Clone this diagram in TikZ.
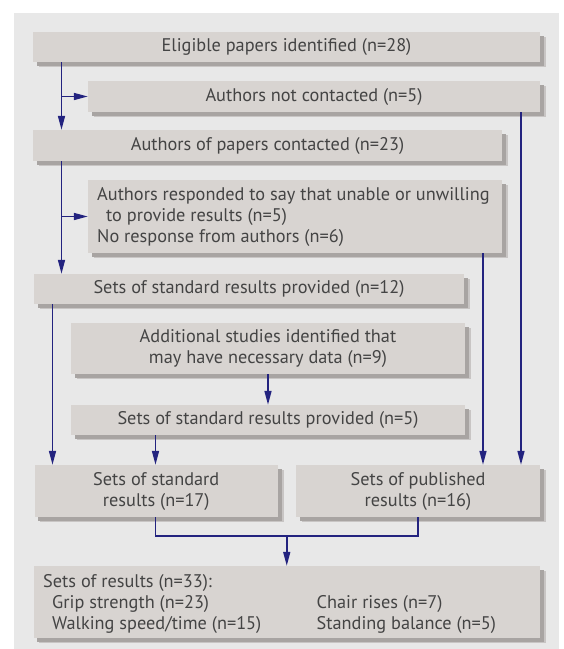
\documentclass[tikz,border=0pt]{standalone}
\usepackage{fontspec}
\setmainfont{PT Sans}
\usetikzlibrary{shadows,arrows.meta}
\definecolor{panel}{HTML}{E8E8E8}
\definecolor{boxfill}{HTML}{D8D4D1}
\definecolor{shadowdark}{HTML}{A8A4A2}
\definecolor{shadowlight}{HTML}{C8C5C4}
\definecolor{navy}{HTML}{23237F}
\definecolor{txt}{HTML}{444444}
\begin{document}
\begin{tikzpicture}[x=1pt,y=-1pt,
  fbox/.style={rectangle, fill=boxfill, inner sep=0pt, text=txt,
    font=\fontsize{18.3}{21}\selectfont, align=center,
    general shadow={fill=shadowlight, shadow xshift=5.5pt, shadow yshift=-5pt},
    general shadow={fill=shadowdark, shadow xshift=3.5pt, shadow yshift=-3.5pt}},
  txtn/.style={inner sep=0pt, text=txt, font=\fontsize{18.3}{21}\selectfont},
  conn/.style={draw=navy, line width=1.6pt},
  arr/.style={conn, -{Triangle[length=14pt,width=7pt]}}]
\useasboundingbox (0,0) rectangle (564,649);
\fill[panel] (14,13) rectangle (559,649);

\node[fbox, minimum width=507pt, minimum height=30pt] (b1) at (286.5,47) {Eligible papers identified (n=28)};
\node[fbox, minimum width=452pt, minimum height=31pt] (b2) at (314,96.5) {Authors not contacted (n=5)};
\node[fbox, minimum width=469pt, minimum height=31pt] (b3) at (267.5,145.5) {Authors of papers contacted (n=23)};
\node[fbox, minimum width=414pt, minimum height=73pt] (b4) at (295,216.5) {};
\node[txtn, anchor=base west] (t4a) at (97,200) {Authors responded to say that unable or unwilling};
\node[txtn, anchor=base west] (t4b) at (106,221.5) {to provide results (n=5)};
\node[txtn, anchor=base west] (t4c) at (97,242.5) {No response from authors (n=6)};
\node[fbox, minimum width=430pt, minimum height=30pt] (b5) at (249,289) {Sets of standard results provided (n=12)};
\node[fbox, minimum width=394pt, minimum height=51pt] (b6) at (268,348.5) {Additional studies identified that\\may have necessary data (n=9)};
\node[fbox, minimum width=394pt, minimum height=30pt] (b7) at (268,420) {Sets of standard results provided (n=5)};
\node[fbox, minimum width=243.5pt, minimum height=52pt] (b8) at (156.25,491) {Sets of standard\\results (n=17)};
\node[fbox, minimum width=244pt, minimum height=52pt] (b9) at (418,491) {Sets of published\\results (n=16)};
\node[fbox, minimum width=506.5pt, minimum height=72pt] (b10) at (286.75,602) {};
\node[txtn, anchor=base west] (t10a) at (43,587) {Sets of results (n=33):};
\node[txtn, anchor=base west] (t10b) at (52,608) {Grip strength (n=23)};
\node[txtn, anchor=base west] (t10c) at (52,629) {Walking speed/time (n=15)};
\node[txtn, anchor=base west] (t10d) at (316.5,608) {Chair rises (n=7)};
\node[txtn, anchor=base west] (t10e) at (316.5,629) {Standing balance (n=5)};

\coordinate (xL) at (61.5,0);
\coordinate (xR) at (521,0);
\coordinate (xM) at (483,0);
\coordinate (xS) at (52.5,0);
\coordinate (xA) at (268,0);
\coordinate (xF) at (155.5,0);
\coordinate (yJ) at (0,536);

\draw[arr] (b1.south -| xL) -- (b3.north -| xL);
\draw[arr] (xL |- b2.west) -- (b2.west);
\draw[arr] (b3.south -| xL) -- (b5.north -| xL);
\draw[arr] (xL |- b4.west) -- (b4.west);
\draw[arr] (b2.south -| xR) -- (b9.north -| xR);
\draw[arr] (b4.south -| xM) -- (b9.north -| xM);
\draw[arr] (b5.south -| xS) -- (b8.north -| xS);
\draw[arr] (b6.south -| xA) -- (b7.north -| xA);
\draw[arr] (b7.south -| xF) -- (b8.north -| xF);
\draw[conn] (b8.south -| xF) -- (xF |- yJ) -- (b9.south |- yJ) -- (b9.south);
\draw[arr] (b10.north |- yJ) -- (b10.north);
\end{tikzpicture}
\end{document}
